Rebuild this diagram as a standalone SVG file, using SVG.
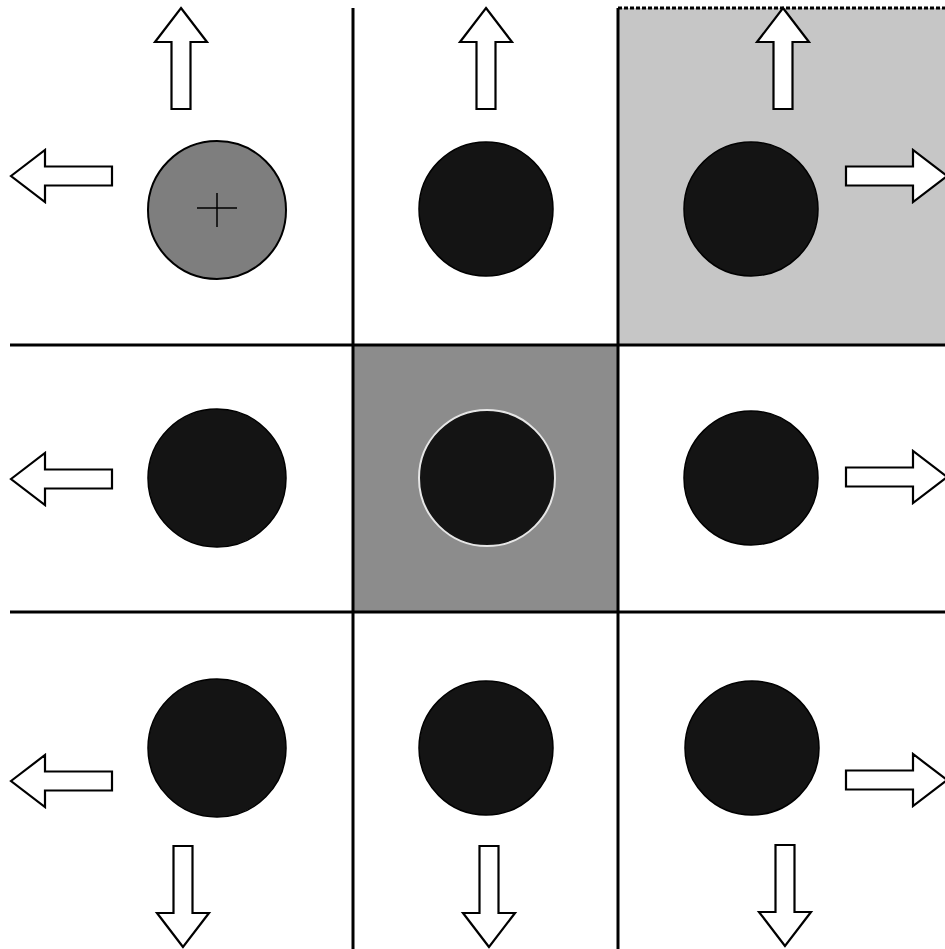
<svg xmlns="http://www.w3.org/2000/svg" width="945" height="949" viewBox="0 0 945 949">
  <style>
    .grid { stroke: #000; stroke-width: 3; fill: none; }
    .dot { fill: #141414; stroke: #000; stroke-width: 1.5; }
    .dot-lit { fill: #7e7e7e; stroke: #000; stroke-width: 2; }
    .halo { fill: #141414; stroke: #e6e6e6; stroke-width: 2; }
    .cross { stroke: #000; stroke-width: 1.5; }
    .arrow { fill: #fff; stroke: #000; stroke-width: 2.2; stroke-linejoin: miter; }
  </style>
  <defs>
    <!-- block arrow pointing up, tip at origin -->
    <path id="blockArrow" class="arrow" d="M0,0 L26,34 L9.5,34 L9.5,101 L-9.5,101 L-9.5,34 L-26,34 Z"/>
  </defs>

  <rect width="945" height="949" fill="#fff"/>

  <!-- shaded cells -->
  <rect id="shade-top-right" x="618" y="8" width="327" height="337" fill="#c6c6c6"/>
  <line x1="618" y1="8" x2="945" y2="8" stroke="#000" stroke-width="3" stroke-dasharray="4 2"/>
  <rect id="shade-center" x="353" y="345" width="265" height="267" fill="#8c8c8c"/>

  <!-- grid -->
  <g id="grid">
    <line class="grid" x1="353" y1="8" x2="353" y2="949"/>
    <line class="grid" x1="618" y1="8" x2="618" y2="949"/>
    <line class="grid" x1="10" y1="345" x2="945" y2="345"/>
    <line class="grid" x1="10" y1="612" x2="945" y2="612"/>
  </g>

  <!-- cells -->
  <g id="cell-0-0">
    <circle class="dot-lit" cx="217" cy="210" r="69"/>
    <line class="cross" x1="197" y1="208" x2="237" y2="208"/>
    <line class="cross" x1="217" y1="193" x2="217" y2="227"/>
  </g>
  <g id="cell-0-1"><circle class="dot" cx="486" cy="209" r="67"/></g>
  <g id="cell-0-2"><circle class="dot" cx="751" cy="209" r="67"/></g>
  <g id="cell-1-0"><circle class="dot" cx="217" cy="478" r="69"/></g>
  <g id="cell-1-1"><circle class="halo" cx="487" cy="478" r="68"/></g>
  <g id="cell-1-2"><circle class="dot" cx="751" cy="478" r="67"/></g>
  <g id="cell-2-0"><circle class="dot" cx="217" cy="748" r="69"/></g>
  <g id="cell-2-1"><circle class="dot" cx="486" cy="748" r="67"/></g>
  <g id="cell-2-2"><circle class="dot" cx="752" cy="748" r="67"/></g>

  <!-- outward arrows -->
  <g id="arrows">
    <use href="#blockArrow" transform="translate(181,8)"/>
    <use href="#blockArrow" transform="translate(11,176) rotate(-90)"/>
    <use href="#blockArrow" transform="translate(486,8)"/>
    <use href="#blockArrow" transform="translate(783,8)"/>
    <use href="#blockArrow" transform="translate(947,176) rotate(90)"/>
    <use href="#blockArrow" transform="translate(11,479) rotate(-90)"/>
    <use href="#blockArrow" transform="translate(947,477) rotate(90)"/>
    <use href="#blockArrow" transform="translate(11,781) rotate(-90)"/>
    <use href="#blockArrow" transform="translate(183,947) rotate(180)"/>
    <use href="#blockArrow" transform="translate(489,947) rotate(180)"/>
    <use href="#blockArrow" transform="translate(947,780) rotate(90)"/>
    <use href="#blockArrow" transform="translate(785,946) rotate(180)"/>
  </g>
</svg>
